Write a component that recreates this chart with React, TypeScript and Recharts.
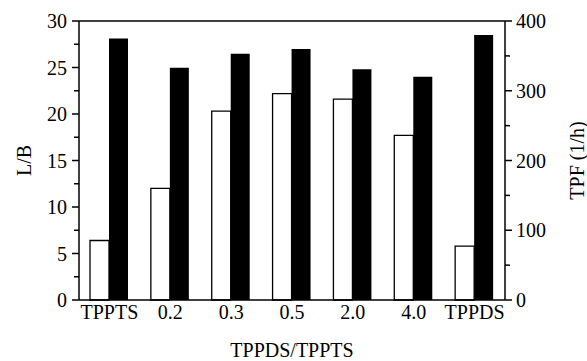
import { BarChart, Bar, XAxis, YAxis, ReferenceLine } from "recharts";

const categories = ["TPPTS", "0.2", "0.3", "0.5", "2.0", "4.0", "TPPDS"];
const lbValues = [6.4, 12.0, 20.3, 22.2, 21.6, 17.7, 5.8];
const tpfValues = [375, 333, 353, 360, 331, 320, 380];

const lbTicks = [0, 2.5, 5, 7.5, 10, 12.5, 15, 17.5, 20, 22.5, 25, 27.5, 30];
const lbLabelled = [0, 5, 10, 15, 20, 25, 30];
const tpfTicks = [0, 50, 100, 150, 200, 250, 300, 350, 400];
const tpfLabelled = [0, 100, 200, 300, 400];

const data = categories.map((c, i) => ({ cat: c, lb: lbValues[i], tpf: tpfValues[i] }));

const FONT = "'Liberation Serif', 'Times New Roman', serif";
const FS = 20;

function LeftTick(props: any) {
  const { x, y, payload } = props;
  const major = lbLabelled.includes(payload.value);
  return (
    <g>
      <line x1={x - (major ? 7 : 5)} x2={x} y1={y} y2={y} stroke="#000" strokeWidth={1.5} />
      {major && (
        <text x={x - 12} y={y} dy="0.36em" textAnchor="end" fontSize={FS} fontFamily={FONT} fill="#000">
          {payload.value}
        </text>
      )}
    </g>
  );
}

function RightTick(props: any) {
  const { x, y, payload } = props;
  const major = tpfLabelled.includes(payload.value);
  return (
    <g>
      <line x1={x} x2={x + (major ? 7 : 5)} y1={y} y2={y} stroke="#000" strokeWidth={1.5} />
      {major && (
        <text x={x + 11} y={y} dy="0.36em" textAnchor="start" fontSize={FS} fontFamily={FONT} fill="#000">
          {payload.value}
        </text>
      )}
    </g>
  );
}

export default function App() {
  return (
    <div style={{ position: "absolute", left: 0, top: 0, width: 587, height: 361, background: "#fff" }}>
      <BarChart
        width={587}
        height={361}
        data={data}
        margin={{ top: 21, right: 0, bottom: 0, left: 0 }}
        barGap={0}
        barSize={19}
      >
        <XAxis
          dataKey="cat"
          height={61}
          tickLine={false}
          tickSize={0}
          tickMargin={5}
          interval={0}
          axisLine={{ stroke: "#000", strokeWidth: 1.5 }}
          tick={{ fill: "#000", fontSize: FS, fontFamily: FONT }}
          label={{
            value: "TPPDS/TPPTS",
            position: "insideBottom",
            offset: 4,
            style: { fill: "#000", fontSize: FS, fontFamily: FONT },
          }}
        />
        <YAxis
          yAxisId="lb"
          orientation="left"
          width={79}
          domain={[0, 30]}
          ticks={lbTicks}
          interval={0}
          tickLine={false}
          tickSize={0}
          tickMargin={0}
          axisLine={{ stroke: "#000", strokeWidth: 1.5 }}
          tick={<LeftTick />}
          label={{
            value: "L/B",
            angle: -90,
            position: "insideLeft",
            offset: 24,
            style: { fill: "#000", fontSize: FS, fontFamily: FONT, textAnchor: "middle" },
          }}
        />
        <YAxis
          yAxisId="tpf"
          orientation="right"
          width={82}
          domain={[0, 400]}
          ticks={tpfTicks}
          interval={0}
          tickLine={false}
          tickSize={0}
          tickMargin={0}
          axisLine={{ stroke: "#000", strokeWidth: 1.5 }}
          tick={<RightTick />}
          label={{
            value: "TPF (1/h)",
            angle: -90,
            position: "insideRight",
            offset: 10,
            style: { fill: "#000", fontSize: FS, fontFamily: FONT, textAnchor: "middle" },
          }}
        />
        <ReferenceLine yAxisId="lb" y={30} stroke="#000" strokeWidth={1.5} />
        <Bar yAxisId="lb" dataKey="lb" fill="#fff" stroke="#000" strokeWidth={1.3} isAnimationActive={false} />
        <Bar yAxisId="tpf" dataKey="tpf" fill="#000" stroke="#000" strokeWidth={0} isAnimationActive={false} />
      </BarChart>
    </div>
  );
}
